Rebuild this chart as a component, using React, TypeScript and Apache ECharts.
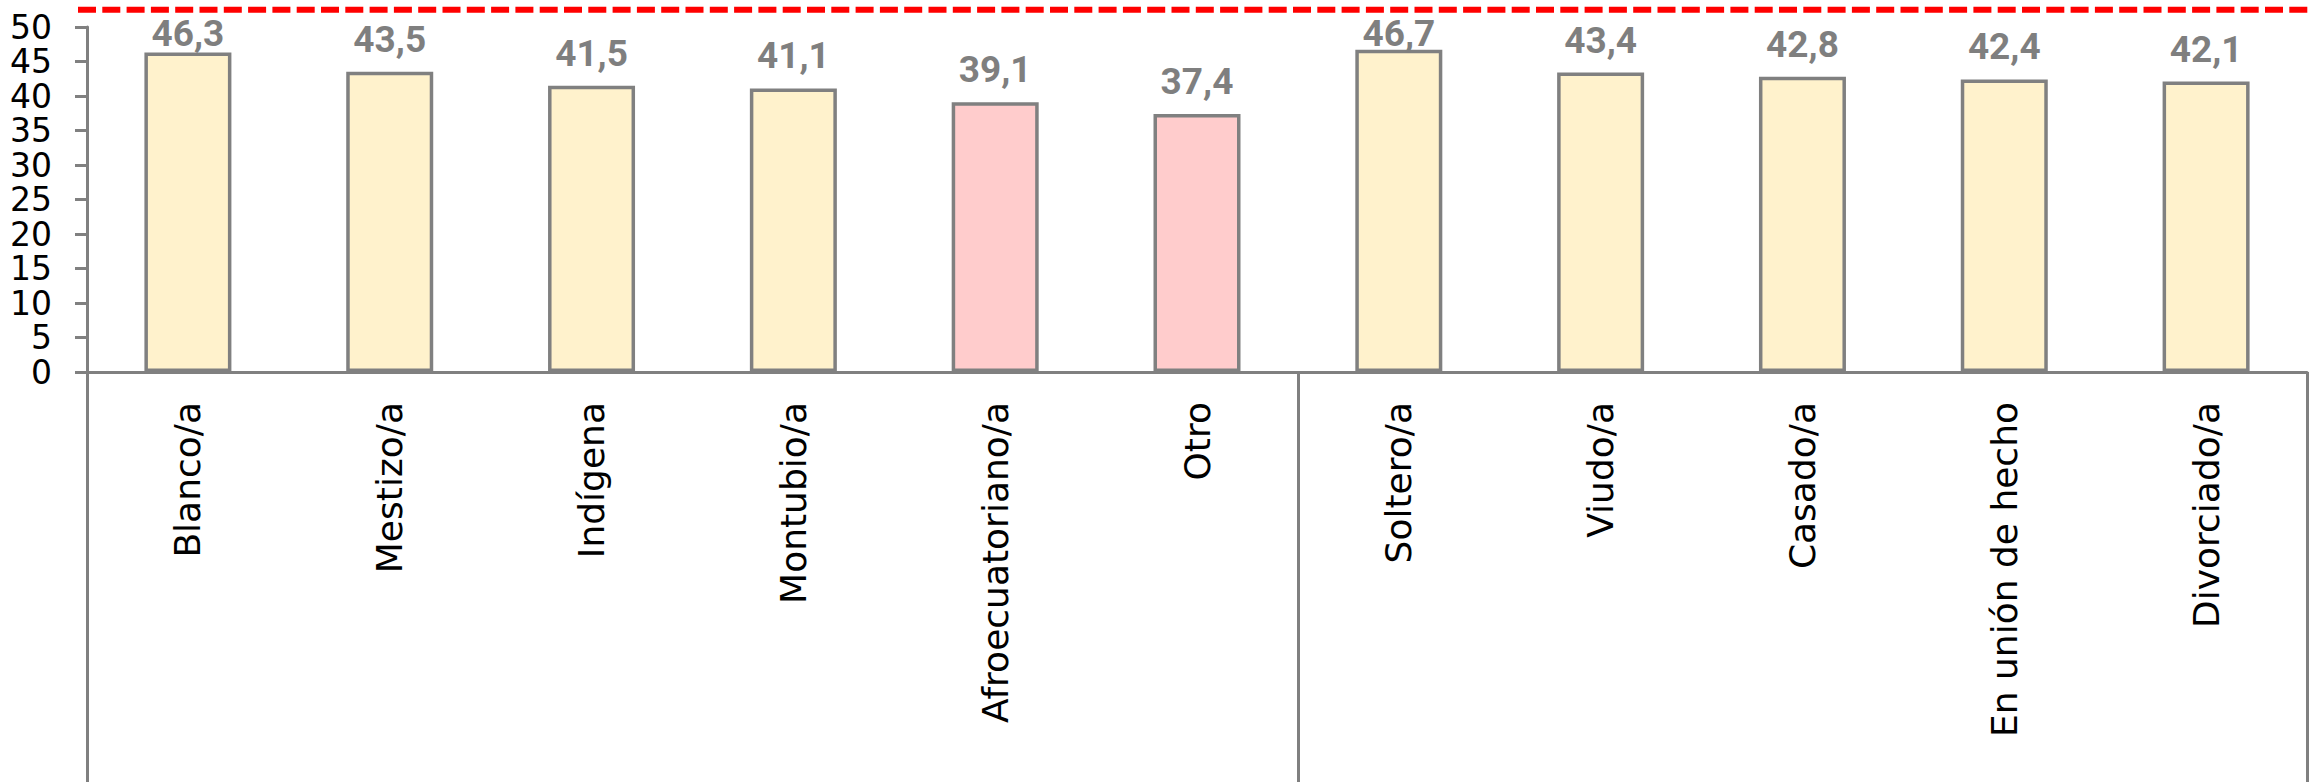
import React, { useEffect, useRef } from "react";
import * as echarts from "echarts";

const categories = [
  "Blanco/a",
  "Mestizo/a",
  "Indígena",
  "Montubio/a",
  "Afroecuatoriano/a",
  "Otro",
  "Soltero/a",
  "Viudo/a",
  "Casado/a",
  "En unión de hecho",
  "Divorciado/a",
];
const values = [46.3, 43.5, 41.5, 41.1, 39.1, 37.4, 46.7, 43.4, 42.8, 42.4, 42.1];
const highlighted = [false, false, false, false, true, true, false, false, false, false, false];
const groupStarts = [0, 6];
const yTicks = { min: 0, max: 50, interval: 5 };

const YELLOW = "#FFF2CC";
const PINK = "#FFCCCC";
const GREY = "#808080";
const MIN_LABEL_TOP = 14.5;

export default function App() {
  const ref = useRef<HTMLDivElement>(null);
  useEffect(() => {
    if (!ref.current) return;
    const chart = echarts.init(ref.current, null, { renderer: "svg" });
    chart.setOption({
      animation: false,
      backgroundColor: "#ffffff",
      grid: { left: 87, right: 4, top: 27, bottom: 410, containLabel: false },
      xAxis: {
        type: "category",
        data: categories,
        boundaryGap: true,
        axisLine: { show: true, lineStyle: { color: GREY, width: 3 } },
        axisTick: {
          show: true,
          length: 412,
          interval: (i: number) => groupStarts.includes(i),
          lineStyle: { color: GREY, width: 3 },
        },
        axisLabel: {
          interval: 0,
          rotate: 90,
          margin: 30,
          color: "#000000",
          fontFamily: "DejaVu Sans",
          fontSize: 36,
        },
        splitLine: { show: false },
      },
      yAxis: {
        type: "value",
        min: yTicks.min,
        max: yTicks.max,
        interval: yTicks.interval,
        axisLine: { show: true, lineStyle: { color: GREY, width: 3 } },
        axisTick: { show: true, length: 12, lineStyle: { color: GREY, width: 3 } },
        axisLabel: {
          margin: 35,
          color: "#000000",
          fontFamily: "DejaVu Sans",
          fontSize: 33,
        },
        splitLine: { show: false },
      },
      series: [
        {
          type: "bar",
          barWidth: 87,
          data: values.map((v, i) => ({
            value: v,
            itemStyle: { color: highlighted[i] ? PINK : YELLOW },
          })),
          itemStyle: { borderColor: GREY, borderWidth: 3.5 },
          label: {
            show: true,
            position: "top",
            distance: 14,
            color: "#7F7F7F",
            fontFamily: "Roboto",
            fontWeight: "bold",
            fontSize: 37,
            formatter: (p: any) => String(p.value.toFixed(1)).replace(".", ","),
          },
          labelLayout: (params: any) => {
            const r = params.labelRect;
            if (r.y >= MIN_LABEL_TOP) return {};
            return {
              x: r.x + r.width / 2,
              y: MIN_LABEL_TOP + r.height,
              align: "center",
              verticalAlign: "bottom",
            };
          },
        },
      ],
      graphic: [
        {
          type: "line",
          shape: { x1: 78, y1: 9.7, x2: 2311, y2: 9.7 },
          style: { stroke: "#FF0000", lineWidth: 6, lineDash: [18, 6.3] },
          silent: true,
        },
      ],
    });
    return () => chart.dispose();
  }, []);
  return (
    <div
      ref={ref}
      style={{ position: "absolute", left: 0, top: 0, width: 2311, height: 782 }}
    />
  );
}
